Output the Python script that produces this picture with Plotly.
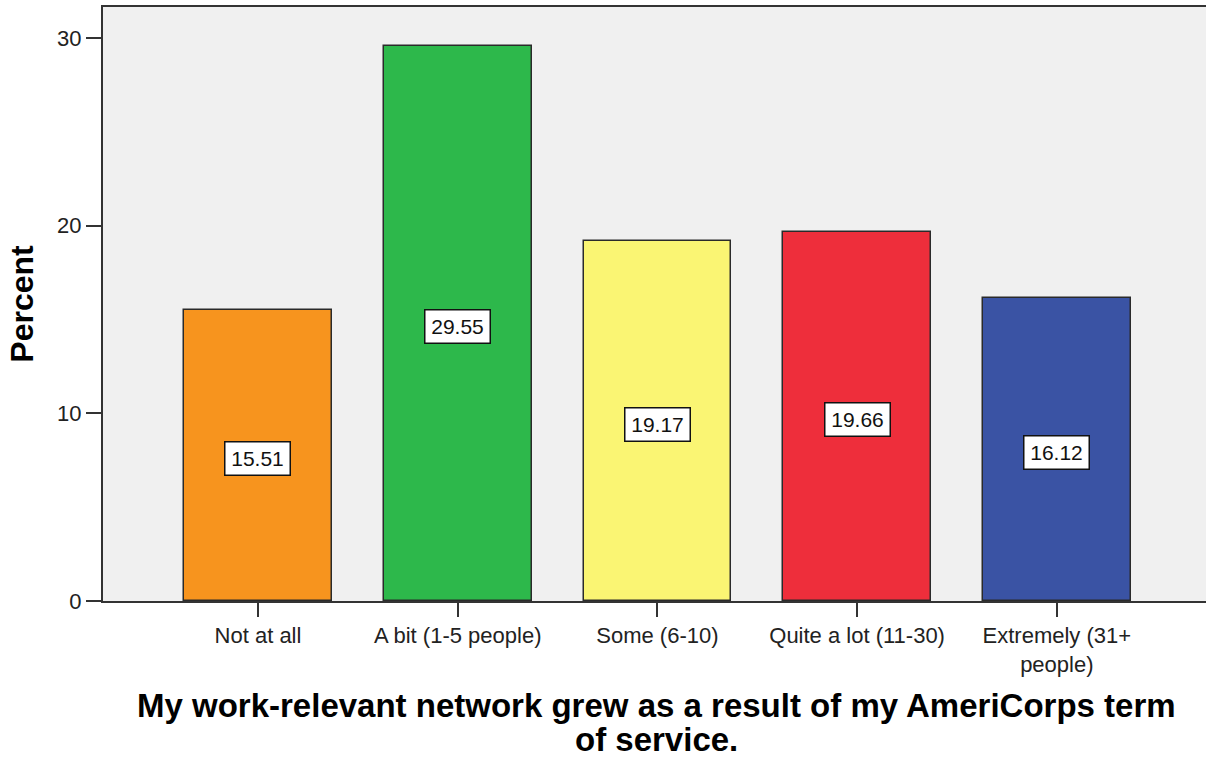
import plotly.graph_objects as go

categories = ["Not at all", "A bit (1-5 people)", "Some (6-10)", "Quite a lot (11-30)", "Extremely (31+<br>people)"]
values = [15.51, 29.55, 19.17, 19.66, 16.12]
colors = ["#F7941E", "#2DB84B", "#FAF573", "#EE2E3B", "#3A53A4"]
y_ticks = [0, 10, 20, 30]
title_lines = ["My work-relevant network grew as a result of my AmeriCorps term", "of service."]

FONT = "Arial, Liberation Sans, sans-serif"

fig = go.Figure()
fig.add_trace(go.Bar(
    x=categories, y=values,
    marker=dict(color=colors, line=dict(color="#2a2a2a", width=1.5)),
    width=0.74, showlegend=False, hoverinfo="skip",
))

for c, v in zip(categories, values):
    fig.add_annotation(
        x=c, y=v / 2, xref="x", yref="y", text=f"{v:.2f}", yshift=-3,
        showarrow=False, font=dict(family=FONT, size=21, color="#111"),
        bgcolor="white", bordercolor="#111", borderwidth=1.5, borderpad=2,
        width=60, height=28,
    )

for line, ypos in zip(title_lines, [-0.1750, -0.2330]):
    fig.add_annotation(
        x=0.502, y=ypos, xref="paper", yref="paper", yanchor="middle",
        text=f"<b>{line}</b>", showarrow=False, height=38, valign="middle",
        font=dict(family=FONT, size=33, color="#000"), borderpad=0,
    )

fig.update_layout(
    width=1206, height=757,
    margin=dict(l=103, r=0, t=7, b=156),
    paper_bgcolor="white", plot_bgcolor="#F0F0F0",
    font=dict(family=FONT, color="#222"),
    bargap=0,
)
fig.update_xaxes(
    range=[-0.776, 4.747], showline=True, linecolor="#333", linewidth=2, mirror=True,
    ticks="outside", ticklen=14, tickwidth=1.5, tickcolor="#333",
    tickfont=dict(size=22, color="#222"), showgrid=False,
)
fig.update_yaxes(
    range=[0, 31.65], tickvals=y_ticks, showline=True, linecolor="#333", linewidth=2,
    ticks="outside", ticklen=15, tickwidth=1.5, tickcolor="#333",
    tickfont=dict(size=22, color="#222"), showgrid=False, zeroline=False,
    title=dict(text="<b>Percent</b>", font=dict(size=32, color="#000"), standoff=14),
)

fig.write_html("out.html")
